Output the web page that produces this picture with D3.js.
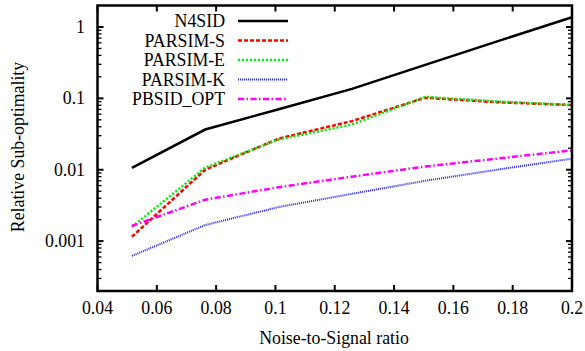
<!DOCTYPE html>
<html>
<head>
<meta charset="utf-8">
<script src="https://cdn.jsdelivr.net/npm/d3@7"></script>
<style>
  body { margin: 0; background: #fff; }
  text { font-family: "Liberation Serif", "DejaVu Serif", serif; font-size: 17.8px; fill: #000; }
</style>
</head>
<body>
<div></div>
<script>
const width = 585;
const height = 351;

// data
const noiseRatio = [0.0516, 0.0763, 0.1011, 0.1258, 0.1505, 0.1753, 0.2];
const n4sid = [0.0106, 0.0366, 0.0705, 0.136, 0.295, 0.64, 1.37];
const parsimS = [0.00115, 0.01, 0.0273, 0.048, 0.102, 0.088, 0.0805];
const parsimE = [0.00158, 0.0107, 0.0265, 0.043, 0.105, 0.09, 0.081];
const parsimK = [0.00062, 0.00168, 0.003, 0.0046, 0.007, 0.0101, 0.0143];
const pbsidOpt = [0.00163, 0.0038, 0.0057, 0.008, 0.0111, 0.0144, 0.0187];
const seriesNames = ["N4SID", "PARSIM-S", "PARSIM-E", "PARSIM-K", "PBSID_OPT"];
const xTicks = [0.04, 0.06, 0.08, 0.1, 0.12, 0.14, 0.16, 0.18, 0.2];
const yTicks = [0.001, 0.01, 0.1, 1];

const series = [
  { name: seriesNames[0], values: n4sid, color: "#000000", dash: null, w: 2.5 },
  { name: seriesNames[1], values: parsimS, color: "#ff0000", dash: "4,2", w: 2.5 },
  { name: seriesNames[2], values: parsimE, color: "#00ee00", dash: "2,2", w: 2.5 },
  { name: seriesNames[3], values: parsimK, color: "#2222ff", dash: "1,1", w: 2 },
  { name: seriesNames[4], values: pbsidOpt, color: "#ff00ff", dash: "6,2.5,1.5,2.5", w: 2.5 },
];

const plotLeft = 97.5, plotRight = 572, plotTop = 5.5, plotBottom = 291;

const svg = d3
  .select("div")
  .append("svg")
  .attr("width", width)
  .attr("height", height);

const x = d3.scaleLinear().domain([0.04, 0.2]).range([plotLeft, plotRight]);
const y = d3.scaleLog().domain([2e-4, 2]).range([plotBottom, plotTop]);

// minor y ticks (2..9 per decade)
const minorY = [];
for (let e = -4; e <= 0; e++) {
  for (let m = 2; m <= 9; m++) {
    const v = m * Math.pow(10, e);
    if (v > 2e-4 && v < 2) minorY.push(v);
  }
}

const ticks = svg.append("g").attr("stroke", "#000");

ticks.selectAll(".minl").data(minorY).enter().append("line")
  .attr("x1", plotLeft).attr("x2", plotLeft + 4)
  .attr("y1", (d) => y(d)).attr("y2", (d) => y(d))
  .attr("stroke-width", 1.3);
ticks.selectAll(".minr").data(minorY).enter().append("line")
  .attr("x1", plotRight).attr("x2", plotRight - 4)
  .attr("y1", (d) => y(d)).attr("y2", (d) => y(d))
  .attr("stroke-width", 1.3);

ticks.selectAll(".majl").data(yTicks).enter().append("line")
  .attr("x1", plotLeft).attr("x2", plotLeft + 6)
  .attr("y1", (d) => y(d)).attr("y2", (d) => y(d))
  .attr("stroke-width", 2);
ticks.selectAll(".majr").data(yTicks).enter().append("line")
  .attr("x1", plotRight).attr("x2", plotRight - 6)
  .attr("y1", (d) => y(d)).attr("y2", (d) => y(d))
  .attr("stroke-width", 2);

ticks.selectAll(".xb").data(xTicks).enter().append("line")
  .attr("x1", (d) => x(d)).attr("x2", (d) => x(d))
  .attr("y1", plotBottom).attr("y2", plotBottom - 6)
  .attr("stroke-width", 2);
ticks.selectAll(".xt").data(xTicks).enter().append("line")
  .attr("x1", (d) => x(d)).attr("x2", (d) => x(d))
  .attr("y1", plotTop).attr("y2", plotTop + 6)
  .attr("stroke-width", 2);

// tick labels
svg.selectAll(".ylab").data(yTicks).enter().append("text")
  .attr("x", 85)
  .attr("y", (d) => y(d) + 6)
  .attr("text-anchor", "end")
  .text((d) => String(d));

svg.selectAll(".xlab").data(xTicks).enter().append("text")
  .attr("x", (d) => x(d))
  .attr("y", 314)
  .attr("text-anchor", "middle")
  .text((d) => String(+d.toFixed(2)));

// axis titles
svg.append("text")
  .attr("x", 334)
  .attr("y", 344)
  .attr("text-anchor", "middle")
  .text("Noise-to-Signal ratio");

svg.append("text")
  .attr("transform", "translate(24,147) rotate(-90)")
  .attr("text-anchor", "middle")
  .text("Relative Sub-optimality");

// lines
const line = d3.line()
  .x((d, i) => x(noiseRatio[i]))
  .y((d) => y(d));

svg.append("g").selectAll("path").data(series).enter().append("path")
  .attr("d", (d) => line(d.values))
  .attr("fill", "none")
  .attr("stroke", (d) => d.color)
  .attr("stroke-width", (d) => d.w)
  .attr("stroke-dasharray", (d) => d.dash);

// legend
const legend = svg.append("g");
legend.selectAll("text").data(series).enter().append("text")
  .attr("x", 225)
  .attr("y", (d, i) => 21 + i * 19.5 + 6)
  .attr("text-anchor", "end")
  .text((d) => d.name);
legend.selectAll("line").data(series).enter().append("line")
  .attr("x1", 238).attr("x2", 288)
  .attr("y1", (d, i) => 21 + i * 19.5)
  .attr("y2", (d, i) => 21 + i * 19.5)
  .attr("stroke", (d) => d.color)
  .attr("stroke-width", (d) => d.w)
  .attr("stroke-dasharray", (d) => d.dash);

// border
svg.append("rect")
  .attr("x", plotLeft).attr("y", plotTop)
  .attr("width", plotRight - plotLeft).attr("height", plotBottom - plotTop)
  .attr("fill", "none")
  .attr("stroke", "#000")
  .attr("stroke-width", 2.5);
</script>
</body>
</html>
